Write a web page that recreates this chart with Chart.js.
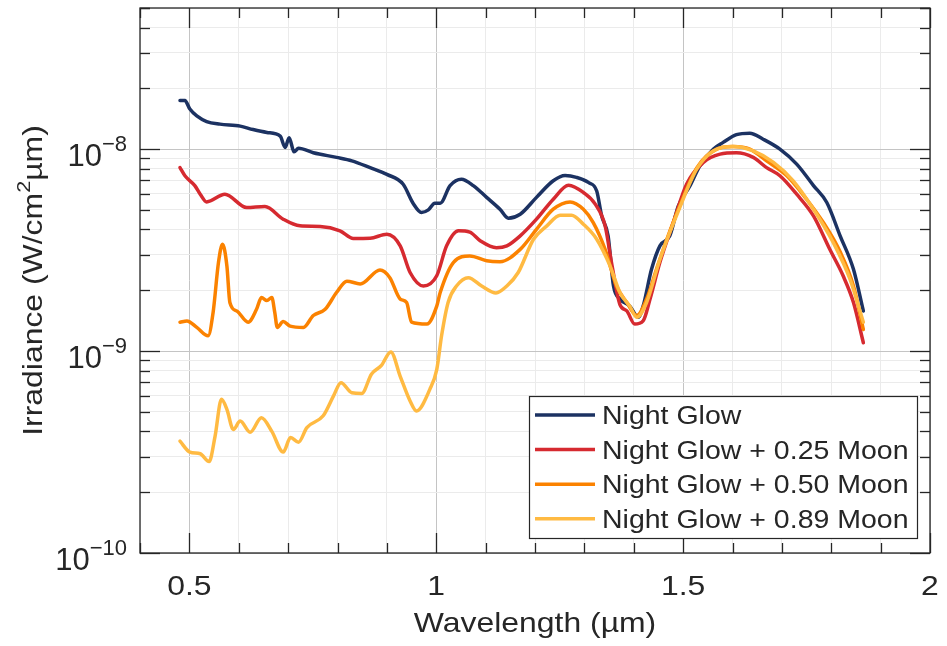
<!DOCTYPE html>
<html>
<head>
<meta charset="utf-8">
<script src="https://cdn.jsdelivr.net/npm/chart.js@4.4.1/dist/chart.umd.min.js"></script>
<style>
  html, body { margin: 0; padding: 0; background: #fff; }
  canvas { display: block; }
</style>
</head>
<body>
<canvas id="myChart" width="947" height="646"></canvas>
<script>
// wavelength (um) / irradiance (1e-9 W/cm^2/um) for each curve
const glowWl = [0.481, 0.491, 0.501, 0.515, 0.535, 0.562, 0.603, 0.629, 0.657, 0.684, 0.694, 0.702, 0.712, 0.721,
  0.751, 0.798, 0.829, 0.866, 0.900, 0.933, 0.953, 0.970, 0.984, 0.997, 1.008, 1.028, 1.051, 1.075, 1.102, 1.129,
  1.146, 1.170, 1.203, 1.237, 1.261, 1.284, 1.308, 1.325, 1.335, 1.348, 1.359, 1.372, 1.392, 1.409, 1.419, 1.436,
  1.453, 1.473, 1.490, 1.514, 1.534, 1.561, 1.581, 1.608, 1.635, 1.662, 1.696, 1.730, 1.764, 1.791, 1.818, 1.845, 1.865];
const glowIrr = [17.4, 17.4, 15.8, 14.6, 13.7, 13.3, 13.0, 12.5, 12.1, 11.6, 10.2, 11.4, 9.7, 10.1,
  9.6, 9.1, 8.75, 8.1, 7.5, 6.7, 5.4, 4.86, 5.0, 5.4, 5.4, 6.6, 7.1, 6.6, 5.77, 5.04,
  4.55, 4.76, 5.77, 6.97, 7.4, 7.25, 6.84, 6.2, 4.67, 3.72, 2.1, 1.81, 1.67, 1.47, 1.67, 2.54,
  3.32, 3.72, 5.2, 6.6, 8.27, 10.0, 10.8, 11.8, 12.0, 11.2, 10.0, 8.43, 6.6, 5.44, 3.72, 2.54, 1.58];

const moon25Wl = [0.481, 0.491, 0.511, 0.522, 0.535, 0.572, 0.616, 0.653, 0.690, 0.724, 0.765, 0.805, 0.832, 0.866,
  0.900, 0.927, 0.947, 0.974, 1.001, 1.021, 1.045, 1.068, 1.089, 1.122, 1.143, 1.170, 1.203, 1.237, 1.268, 1.298,
  1.322, 1.342, 1.356, 1.372, 1.386, 1.402, 1.419, 1.433, 1.453, 1.480, 1.507, 1.541, 1.575, 1.608, 1.642, 1.669,
  1.696, 1.730, 1.764, 1.797, 1.824, 1.845, 1.865];
const moon25Irr = [8.1, 7.38, 6.6, 5.98, 5.48, 5.98, 5.14, 5.2, 4.5, 4.17, 4.14, 3.94, 3.61, 3.62,
  3.79, 3.32, 2.45, 2.1, 2.36, 3.32, 3.94, 3.88, 3.52, 3.25, 3.32, 3.72, 4.5, 5.65, 6.63, 6.1,
  5.34, 4.17, 2.65, 1.7, 1.58, 1.36, 1.41, 1.81, 2.75, 4.33, 6.7, 8.6, 9.45, 9.6, 9.1, 8.1,
  7.38, 5.98, 4.67, 3.19, 2.36, 1.74, 1.1];

const moon50Wl = [0.481, 0.495, 0.515, 0.538, 0.548, 0.559, 0.567, 0.576, 0.582, 0.596, 0.619, 0.636, 0.646, 0.657,
  0.667, 0.673, 0.678, 0.690, 0.704, 0.731, 0.751, 0.775, 0.798, 0.819, 0.846, 0.886, 0.906, 0.927, 0.940, 0.950,
  0.981, 1.001, 1.008, 1.035, 1.068, 1.102, 1.129, 1.170, 1.203, 1.237, 1.271, 1.298, 1.318, 1.342, 1.365, 1.386,
  1.406, 1.426, 1.446, 1.467, 1.494, 1.528, 1.568, 1.601, 1.635, 1.669, 1.710, 1.750, 1.784, 1.818, 1.845, 1.865];
const moon50Irr = [1.39, 1.41, 1.31, 1.19, 1.55, 2.75, 3.38, 2.64, 1.74, 1.58, 1.39, 1.61, 1.84, 1.78,
  1.84, 1.55, 1.31, 1.40, 1.33, 1.31, 1.50, 1.61, 1.95, 2.22, 2.15, 2.52, 2.31, 1.81, 1.74, 1.39,
  1.36, 1.67, 1.95, 2.75, 2.96, 2.8, 2.77, 3.19, 4.01, 5.04, 5.48, 5.04, 4.33, 3.19, 2.1, 1.74,
  1.5, 1.81, 2.54, 3.58, 5.3, 8.1, 10.0, 10.3, 10.0, 8.75, 7.38, 5.65, 4.33, 3.1, 2.1, 1.28];

const moon89Wl = [0.481, 0.501, 0.522, 0.540, 0.552, 0.565, 0.576, 0.589, 0.603, 0.623, 0.646, 0.667, 0.690, 0.705,
  0.721, 0.738, 0.771, 0.792, 0.807, 0.829, 0.849, 0.869, 0.889, 0.908, 0.927, 0.947, 0.960, 0.987, 1.001, 1.011,
  1.024, 1.041, 1.065, 1.092, 1.121, 1.143, 1.166, 1.197, 1.224, 1.251, 1.274, 1.298, 1.325, 1.352, 1.372, 1.392,
  1.406, 1.426, 1.453, 1.494, 1.528, 1.561, 1.601, 1.642, 1.683, 1.723, 1.764, 1.804, 1.838, 1.865];
const moon89Irr = [0.358, 0.316, 0.31, 0.284, 0.378, 0.577, 0.514, 0.409, 0.45, 0.396, 0.468, 0.40, 0.316, 0.373,
  0.354, 0.418, 0.478, 0.60, 0.697, 0.622, 0.617, 0.77, 0.85, 0.99, 0.75, 0.566, 0.505, 0.646, 0.81, 1.2,
  1.74, 2.1, 2.31, 2.1, 1.94, 2.1, 2.45, 3.58, 4.17, 4.71, 4.71, 4.25, 3.58, 2.64, 1.95, 1.67,
  1.47, 1.74, 2.85, 5.2, 8.0, 9.8, 10.3, 9.8, 8.6, 6.97, 5.04, 3.45, 2.27, 1.39];

const seriesLabels = ['Night Glow', 'Night Glow + 0.25 Moon', 'Night Glow + 0.50 Moon', 'Night Glow + 0.89 Moon'];
const seriesColors = ['#1c3262', '#d62a30', '#fb8200', '#ffba42'];
const seriesWl = [glowWl, moon25Wl, moon50Wl, moon89Wl];
const seriesIrr = [glowIrr, moon25Irr, moon50Irr, moon89Irr];

const xTickValues = [0.5, 1, 1.5, 2];
const xTickLabels = ['0.5', '1', '1.5', '2'];
const yDecades = [-10, -9, -8];

const TEXT = '#262626';
const AXIS = '#262626';
const FONT = '"Liberation Sans", Arial, sans-serif';
const STRETCH = 1.14;

// minor grid every 0.1 um, 1..9 per decade on y
const xGrid = [];
for (let i = 4; i <= 20; i++) xGrid.push(i / 10);
const yGrid = [];
yDecades.forEach(e => {
  for (let m = 1; m <= 9; m++) {
    const v = m * Math.pow(10, e);
    if (v <= 5e-8 * 1.0001) yGrid.push(v);
  }
});
yGrid.push(5e-8);

const isHalf = v => Math.abs(v * 2 - Math.round(v * 2)) < 1e-6;
const isDecade = v => Math.abs(Math.log10(v) - Math.round(Math.log10(v))) < 1e-6;

// text with a slight horizontal stretch (wide Helvetica look)
function wideText(ctx, str, x, y, size, align) {
  ctx.save();
  ctx.font = size + 'px ' + FONT;
  const w = ctx.measureText(str).width * STRETCH;
  const x0 = align === 'center' ? x - w / 2 : align === 'right' ? x - w : x;
  ctx.translate(x0, y);
  ctx.scale(STRETCH, 1);
  ctx.textAlign = 'left';
  ctx.textBaseline = 'alphabetic';
  ctx.fillText(str, 0, 0);
  ctx.restore();
  return w;
}

function seg(ctx, x1, y1, x2, y2) {
  ctx.beginPath();
  ctx.moveTo(x1, y1);
  ctx.lineTo(x2, y2);
  ctx.stroke();
}

// box, inward ticks on all four sides
const axesBox = {
  id: 'axesBox',
  afterDatasetsDraw(chart) {
    const { ctx, chartArea: { left, right, top, bottom }, scales: { x, y } } = chart;
    ctx.save();
    ctx.strokeStyle = AXIS;
    ctx.lineWidth = 1.3;
    xGrid.forEach(v => {
      const px = Math.round(x.getPixelForValue(v)) + 0.5;
      const len = isHalf(v) ? 20 : 10;
      seg(ctx, px, bottom, px, bottom - len);
      seg(ctx, px, top, px, top + len);
    });
    yGrid.forEach(v => {
      const py = Math.round(y.getPixelForValue(v)) + 0.5;
      const len = isDecade(v) ? 20 : 10;
      seg(ctx, left, py, left + len, py);
      seg(ctx, right, py, right - len, py);
    });
    ctx.strokeRect(left, top, right - left, bottom - top);
    ctx.restore();
  },
  afterDraw(chart) {
    const { ctx, chartArea: { left, right, top, bottom }, scales: { x, y } } = chart;
    ctx.save();
    ctx.fillStyle = TEXT;

    // x tick labels
    xTickValues.forEach((v, i) => {
      wideText(ctx, xTickLabels[i], x.getPixelForValue(v), bottom + 42, 28, 'center');
    });

    // y tick labels as powers of ten
    yDecades.forEach(e => {
      const py = y.getPixelForValue(Math.pow(10, e));
      const exp = String(e).replace('-', '\u2212');
      ctx.font = '22px ' + FONT;
      ctx.textAlign = 'right';
      ctx.textBaseline = 'alphabetic';
      const ew = ctx.measureText(exp).width;
      ctx.fillText(exp, left - 13, py + 2);
      ctx.font = '31px ' + FONT;
      ctx.fillText('10', left - 13 - ew, py + 17);
    });

    // axis titles
    wideText(ctx, 'Wavelength (\u00b5m)', (left + right) / 2, bottom + 79, 28, 'center');

    ctx.save();
    ctx.translate(42, (top + bottom) / 2);
    ctx.rotate(-Math.PI / 2);
    ctx.scale(STRETCH, 1);
    ctx.textBaseline = 'alphabetic';
    ctx.textAlign = 'left';
    const p1 = 'Irradiance (W/cm', sup = '2', p2 = '\u00b5m)';
    ctx.font = '28px ' + FONT;
    const w1 = ctx.measureText(p1).width, w3 = ctx.measureText(p2).width;
    ctx.font = '19px ' + FONT;
    const w2 = ctx.measureText(sup).width;
    let cx = -(w1 + w2 + w3) / 2;
    ctx.font = '28px ' + FONT;
    ctx.fillText(p1, cx, 0);
    cx += w1;
    ctx.font = '19px ' + FONT;
    ctx.fillText(sup, cx, -12);
    cx += w2;
    ctx.font = '28px ' + FONT;
    ctx.fillText(p2, cx, 0);
    ctx.restore();

    // legend box
    const bx = 529, by = 396, bw = 388, bh = 142;
    ctx.fillStyle = '#ffffff';
    ctx.fillRect(bx, by, bw, bh);
    ctx.strokeStyle = AXIS;
    ctx.lineWidth = 1.2;
    ctx.strokeRect(bx + 0.5, by + 0.5, bw, bh);
    chart.data.datasets.forEach((ds, i) => {
      const ry = by + 19 + i * 34.6;
      ctx.strokeStyle = ds.borderColor;
      ctx.lineWidth = 3.5;
      seg(ctx, bx + 6, ry, bx + 66, ry);
      ctx.fillStyle = TEXT;
      wideText(ctx, ds.label, bx + 73, ry + 9, 25, 'left');
    });
    ctx.restore();
  }
};

const toPoints = (wl, irr) => wl.map((w, i) => ({ x: w, y: irr[i] * 1e-9 }));

const data = {
  datasets: seriesLabels.map((label, i) => ({
    label: label,
    data: toPoints(seriesWl[i], seriesIrr[i]),
    borderColor: seriesColors[i],
    borderWidth: 3.5,
    pointRadius: 0,
    fill: false,
    cubicInterpolationMode: 'monotone',
    borderJoinStyle: 'round',
    borderCapStyle: 'round',
    order: seriesLabels.length - i
  }))
};

const config = {
  type: 'line',
  data,
  options: {
    responsive: false,
    animation: false,
    devicePixelRatio: 1,
    layout: { padding: { top: 8, right: 17, left: 0, bottom: 0 } },
    plugins: {
      legend: { display: false },
      tooltip: { enabled: false }
    },
    scales: {
      x: {
        type: 'linear',
        min: 0.4,
        max: 2.0,
        afterBuildTicks: s => { s.ticks = xGrid.map(v => ({ value: v })); },
        afterFit: s => { s.height = 93; },
        ticks: { display: false },
        grid: {
          color: c => isHalf(c.tick.value) ? '#c4c4c4' : '#ebebeb',
          lineWidth: 1,
          drawTicks: false
        },
        border: { display: false }
      },
      y: {
        type: 'logarithmic',
        min: 1e-10,
        max: 5e-8,
        afterBuildTicks: s => { s.ticks = yGrid.map(v => ({ value: v })); },
        afterFit: s => { s.width = 140; },
        ticks: { display: false },
        grid: {
          color: c => isDecade(c.tick.value) ? '#c4c4c4' : '#ebebeb',
          lineWidth: 1,
          drawTicks: false
        },
        border: { display: false }
      }
    }
  },
  plugins: [axesBox]
};

const myChart = new Chart(document.getElementById('myChart'), config);
</script>
</body>
</html>
